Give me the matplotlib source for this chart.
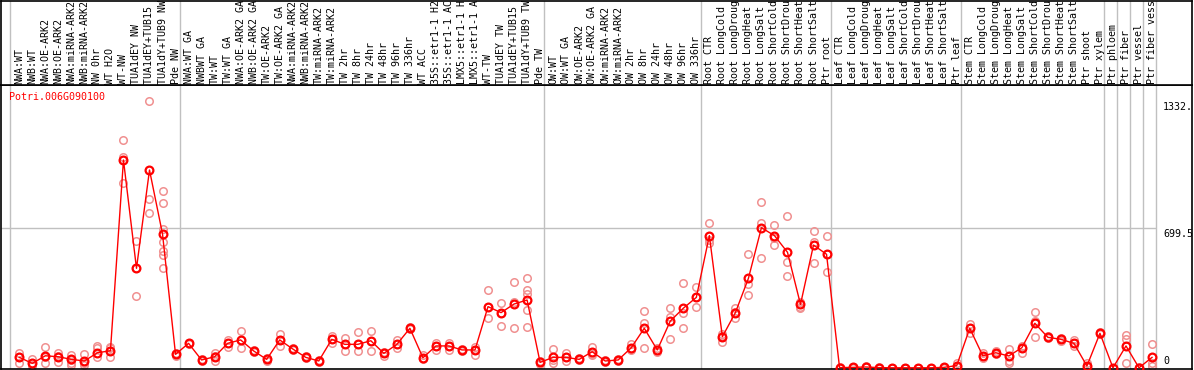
#! /usr/bin/env python3
"""
Expression profile of Potri.006G090100 across poplar samples.
"""

import matplotlib
matplotlib.use("Agg")
import matplotlib.pyplot as plt

gene = "Potri.006G090100"

sample_labels = [
    # wood tissues NW
    "NWA:WT", "NWB:WT", "NWA:OE-ARK2", "NWB:OE-ARK2", "NWA:miRNA-ARK2",
    "NWB:miRNA-ARK2", "NW 0hr", "WT H2O", "WT-NW", "TUA1dEY NW",
    "TUA1dEY+TUB15 NW", "TUA1dY+TUB9 NW", "Pde NW",
    # tension wood
    "NWA:WT GA", "NWBWT GA", "TW:WT", "TW:WT GA", "NWA:OE-ARK2 GA",
    "NWB:OE-ARK2 GA", "TW:OE-ARK2", "TW:OE-ARK2 GA", "NWA:miRNA-ARK2",
    "NWB:miRNA-ARK2", "TW:miRNA-ARK2", "TW:miRNA-ARK2", "TW 2hr", "TW 8hr",
    "TW 24hr", "TW 48hr", "TW 96hr", "TW 336hr", "WT ACC",
    "35S::etr1-1 H2O", "35S::etr1-1 ACC", "LMX5::etr1-1 H2O",
    "LMX5::etr1-1 ACC", "WT-TW", "TUA1dEY TW", "TUA1dEY+TUB15 TW",
    "TUA1dY+TUB9 TW", "Pde TW",
    # opposite wood
    "OW:WT", "OW:WT GA", "OW:OE-ARK2", "OW:OE-ARK2 GA", "OW:miRNA-ARK2",
    "OW:miRNA-ARK2", "OW 2hr", "OW 8hr", "OW 24hr", "OW 48hr", "OW 96hr",
    "OW 336hr",
    # root
    "Root CTR", "Root LongCold", "Root LongDrought", "Root LongHeat",
    "Root LongSalt", "Root ShortCold", "Root ShortDrought", "Root ShortHeat",
    "Root ShortSalt", "Ptr root",
    # leaf
    "Leaf CTR", "Leaf LongCold", "Leaf LongDrought", "Leaf LongHeat",
    "Leaf LongSalt", "Leaf ShortCold", "Leaf ShortDrought", "Leaf ShortHeat",
    "Leaf ShortSalt", "Ptr leaf",
    # stem
    "Stem CTR", "Stem LongCold", "Stem LongDrought", "Stem LongHeat",
    "Stem LongSalt", "Stem ShortCold", "Stem ShortDrought", "Stem ShortHeat",
    "Stem ShortSalt", "Ptr shoot", "Ptr xylem",
    # xylem cell types
    "Ptr phloem", "Ptr fiber", "Ptr vessel", "Ptr fiber vessel",
]

# first sample index of each block (last entry = number of samples)
group_starts = [0, 13, 41, 53, 63, 73, 84, 85, 86, 87, 88]

mean_values = [
    53, 23, 61, 56, 43, 35, 76, 86, 1037, 497, 987, 668, 68,
    123, 40, 56, 123, 140, 85, 43, 140, 95, 53, 35, 143, 118, 118, 136, 73,
    118, 198, 51, 110, 110, 90, 90, 306, 276, 319, 339, 28,
    53, 53, 43, 81, 35, 40, 101, 198, 90, 234, 298, 352,
    660, 156, 276, 447, 699.5, 660, 577, 317, 613, 567,
    2, 3, 5, 2, 1, 1, 1, 1, 3, 12,
    198, 61, 76, 60, 101, 223, 153, 143, 123, 10, 173,
    1, 110, 1, 53,
]

replicate_values = [
    [76, 53, 26], [43, 15, 12], [103, 55, 26], [76, 60, 31], [65, 40, 26, 15],
    [68, 25, 15], [110, 98, 56], [106, 98, 56], [1137, 1050, 921],
    [633, 497, 359], [1332.5, 841, 771],
    [882, 821, 691, 627, 585, 563, 497], [75, 62],
    [123, 120], [45, 35], [73, 60, 36], [140, 103], [184, 140, 101],
    [90, 80], [50, 36], [169, 140, 110], [100, 90], [60, 48], [40, 30],
    [161, 143, 123], [148, 120, 85], [178, 118, 86], [184, 136, 85], [80, 61],
    [140, 118, 98], [205, 192], [65, 45], [123, 110, 90], [125, 110, 90],
    [95, 85], [106, 90, 65], [389, 306, 251], [323, 276, 209],
    [427, 330, 199], [447, 389, 369, 289, 203], [35, 20],
    [93, 40, 26], [73, 53, 35], [48, 38], [106, 70, 65], [40, 30], [45, 35],
    [118, 95, 90], [284, 223, 98], [98, 82], [298, 256, 143],
    [422, 273, 198], [405, 352, 303],
    [721, 640, 621], [169, 160, 128], [298, 280, 248], [568, 417, 364],
    [826, 721, 547], [713, 650, 613], [758, 527, 459], [330, 305, 298],
    [683, 630, 522], [658, 567, 477],
    [3, 1], [5, 2], [8, 3], [3, 1], [2, 0], [2, 0], [2, 0], [2, 0], [5, 1],
    [23, 5],
    [218, 200, 176], [73, 60, 48], [85, 70], [93, 60, 36, 26],
    [110, 101, 76], [278, 235, 156], [160, 148], [150, 143, 135],
    [140, 123, 110], [23, 5], [178, 168],
    [2, 0], [164, 143, 26], [3, 0], [118, 23, 12],
]

y_tick_values = [0, 699.5, 1332.5]
y_tick_labels = ["0", "699.5", "1332.5"]


def main():
    font = "DejaVu Sans Mono"
    fsize = 7.2
    grid_colour = "#c0c0c0"
    line_colour = "#ff0000"
    rep_colour = "#f09090"
    width, height = 1194, 370
    fig = plt.figure(figsize=(width / 100, height / 100), dpi=100)

    # pixel layout of the two panels
    left_px, right_px = 0.5, 1192
    split_px, bottom_px = 85, 369
    ax = fig.add_axes([
        left_px / width, (height - bottom_px) / height,
        (right_px - left_px) / width, (bottom_px - split_px) / height,
    ])
    ax_lab = fig.add_axes([
        left_px / width, (height - split_px) / height,
        (right_px - left_px) / width, (split_px - 0.5) / height,
    ])

    n = len(sample_labels)
    xs = list(range(n))
    xlim = (-1.444, 90.07)
    ylim = (-5, 1411)
    for a in (ax, ax_lab):
        a.set_xlim(xlim)
        a.set_xticks([])
        a.set_yticks([])
        for s in a.spines.values():
            s.set_color("black")
            s.set_linewidth(1.2)
    ax.set_ylim(ylim)
    ax_lab.set_ylim(0, 85)

    # block separators
    bounds = [g - 0.68 for g in group_starts]
    for b in bounds:
        ax.axvline(b, color=grid_colour, lw=1, zorder=0)
        ax_lab.axvline(b, color=grid_colour, lw=1, zorder=0)
    ax.hlines(y_tick_values[1], xlim[0], bounds[-1], color=grid_colour,
              lw=1, zorder=0)

    # sample labels (long ones run off the top, as in the source chart)
    for x, text in zip(xs, sample_labels):
        ax_lab.text(x, 1.5, text, rotation=90, ha="center", va="bottom",
                    family=font, fontsize=fsize, color="black", clip_on=True)

    # replicates then means
    for x, reps in zip(xs, replicate_values):
        ax.plot([x] * len(reps), reps, linestyle="None", marker="o",
                markersize=5.4, markerfacecolor="none",
                markeredgecolor=rep_colour, markeredgewidth=1.1,
                clip_on=False, zorder=2)
    ax.plot(xs, mean_values, color=line_colour, lw=1, marker="o",
            markersize=5.6, markerfacecolor="none",
            markeredgecolor=line_colour, markeredgewidth=1.6,
            clip_on=False, zorder=3)

    ax.text(-0.8, 1350, gene, ha="left", va="center", family=font,
            fontsize=fsize, color=line_colour)

    # value labels on the right
    trans = ax.get_yaxis_transform()
    for val, lab in zip(y_tick_values, y_tick_labels):
        va = "bottom" if val == 0 else "top"
        yy = val + 10 if val == 0 else val - 5
        ax.text(0.9757, yy, lab, transform=trans, ha="left", va=va,
                family=font, fontsize=fsize, color="black", clip_on=True)

    fig.savefig("out.png", dpi=100)


if __name__ == "__main__":
    main()
